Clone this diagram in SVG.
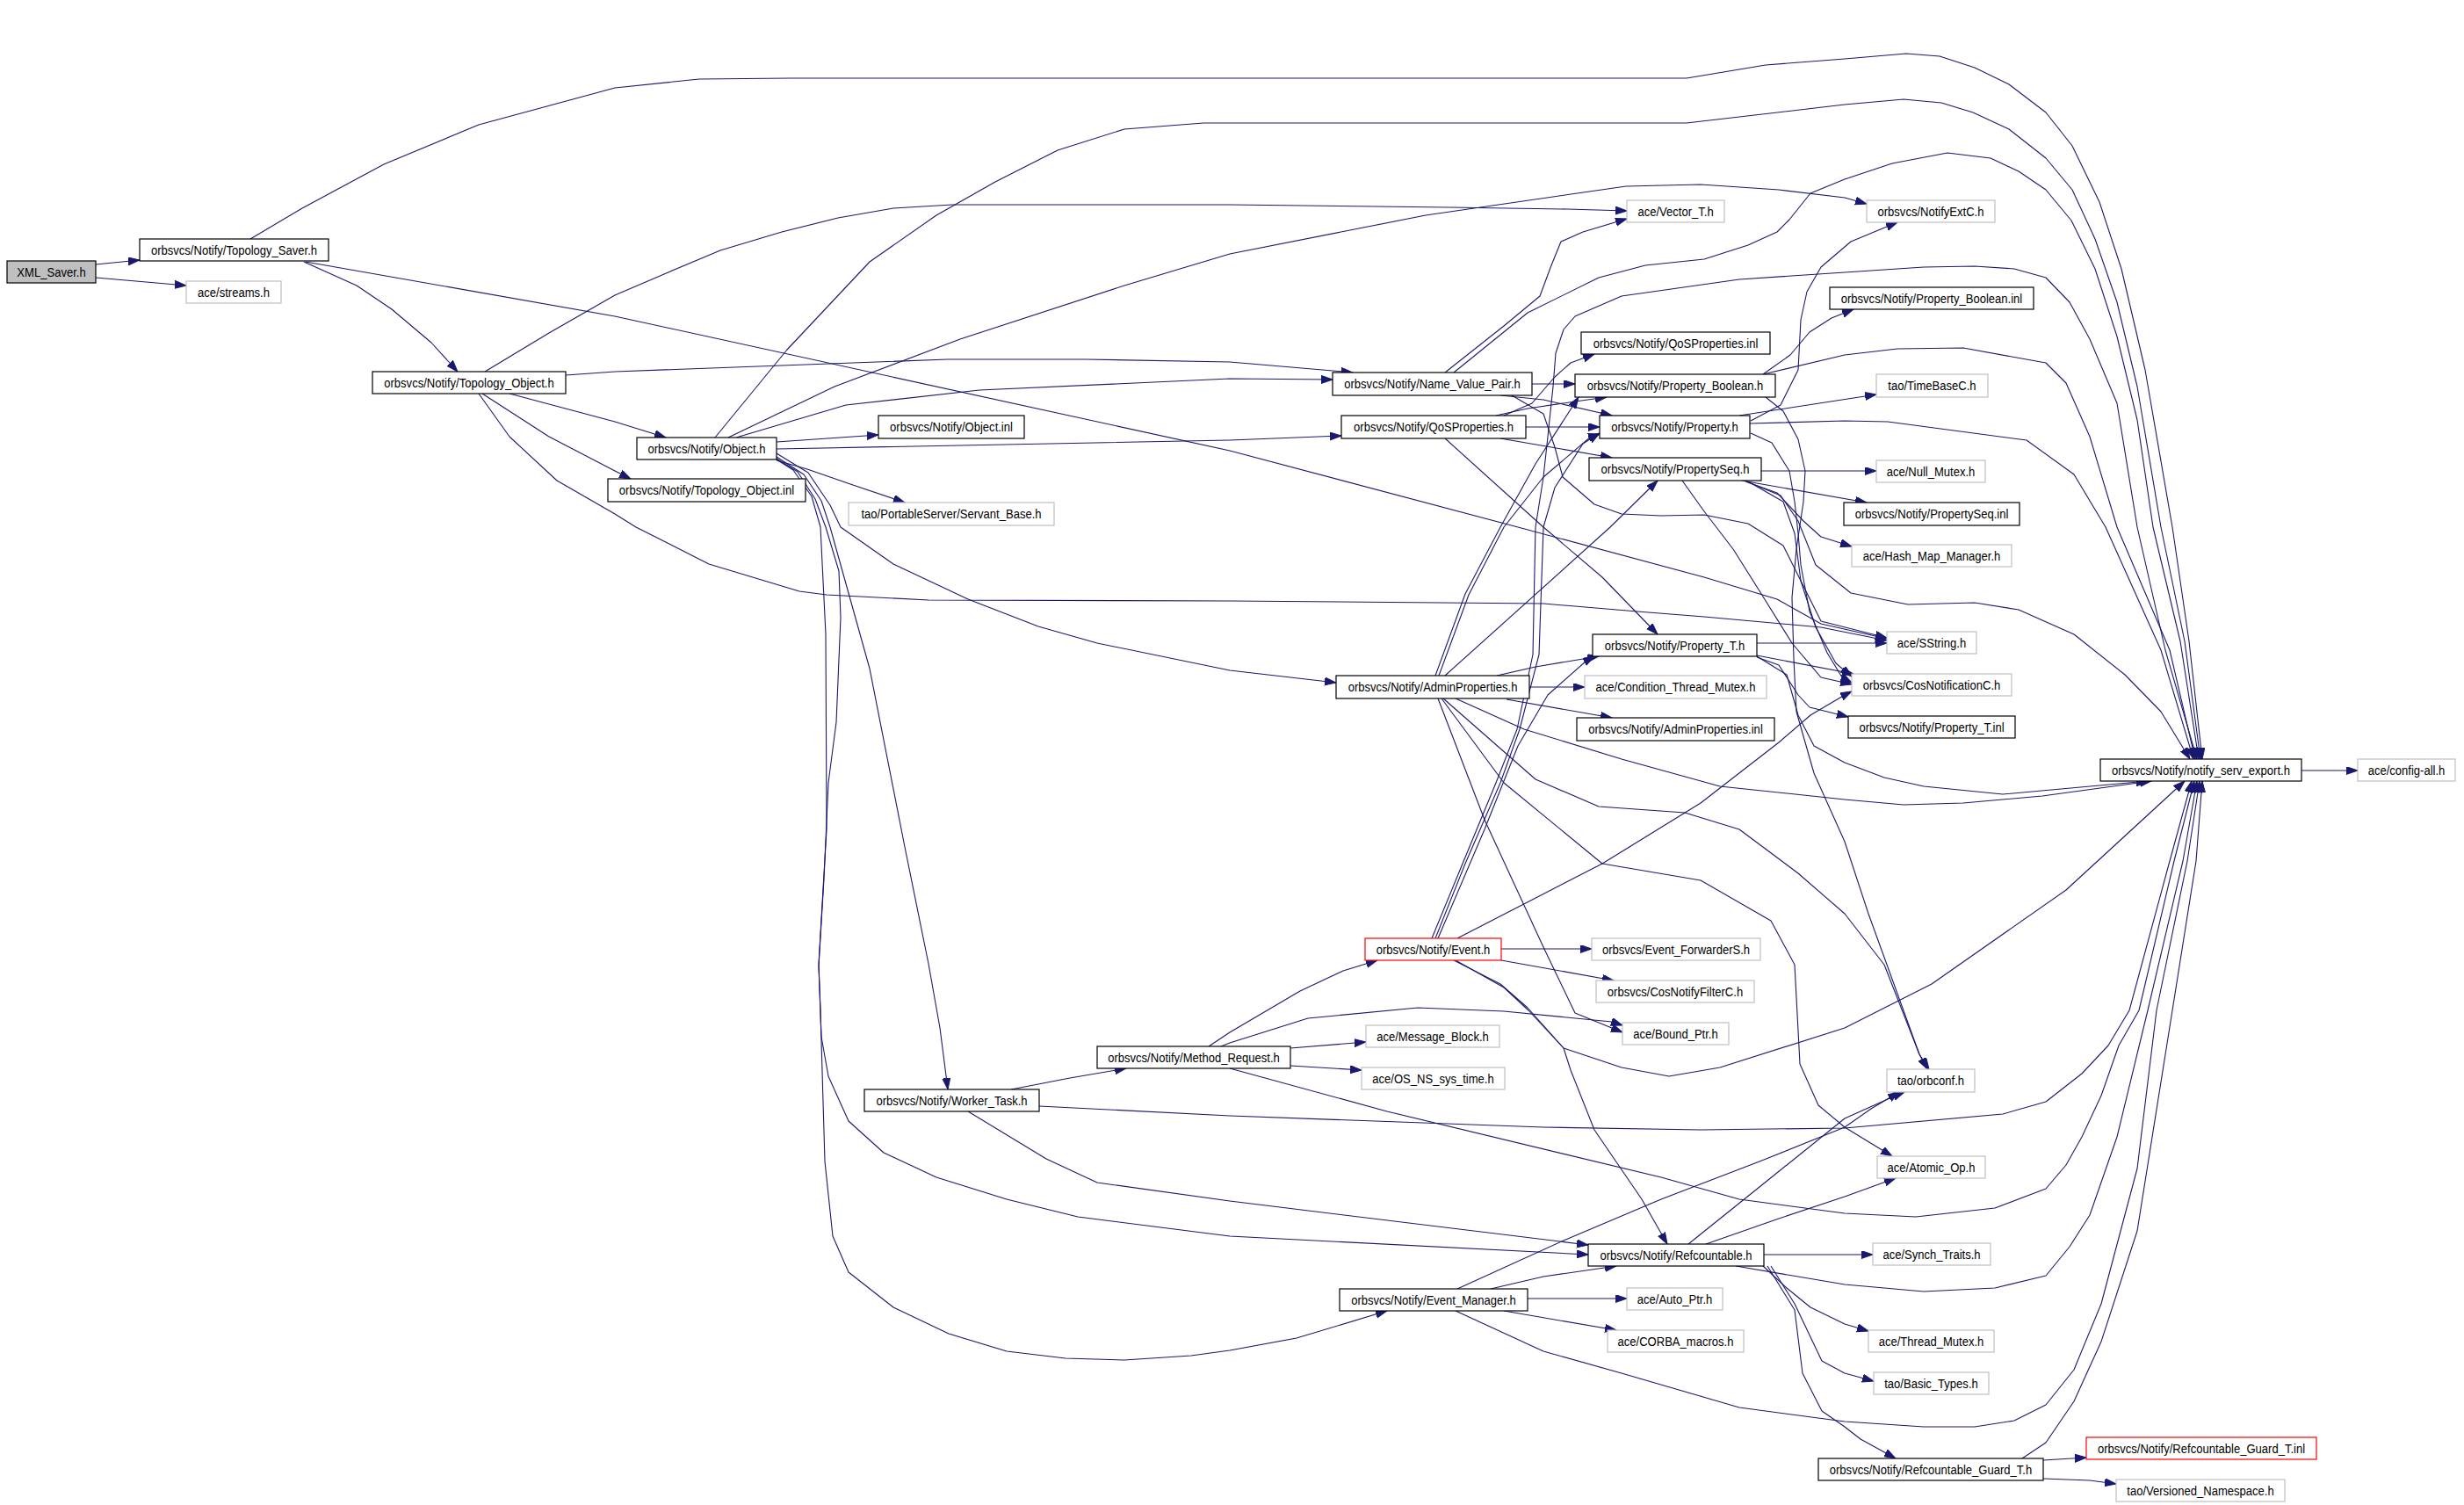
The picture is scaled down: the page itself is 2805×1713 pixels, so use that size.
<svg xmlns="http://www.w3.org/2000/svg" width="2805" height="1713" viewBox="0 0 2805 1713">
<defs>
<marker id="ah" markerUnits="userSpaceOnUse" markerWidth="14" markerHeight="10" refX="13" refY="4.5" orient="auto">
<path d="M0,0 L13,4.5 L0,9 z" fill="#191970" stroke="#191970" stroke-width="1"/>
</marker>
<style>
.e{fill:none;stroke:#191970;stroke-width:1.1;stroke-linejoin:round;marker-end:url(#ah)}
.nb rect{fill:#ffffff;stroke:#000000;stroke-width:1.2}
.ng rect{fill:#ffffff;stroke:#bfbfbf;stroke-width:1.2}
.nr rect{fill:#ffffff;stroke:#ff0000;stroke-width:1.2}
.nf rect{fill:#bfbfbf;stroke:#000000;stroke-width:1.2}
text{font-family:"Liberation Sans",Arial,Helvetica,sans-serif;font-size:14.5px;text-anchor:middle;fill:#000000}
</style>
</defs>
<rect x="0" y="0" width="2805" height="1713" fill="#ffffff"/>
<g id="connectors">
<path class="e" d="M109,301 L159,296"/>
<path class="e" d="M109,316 L212,325"/>
<path class="e" d="M285,272 L344,237 L437,187 L545,142 L700,100 L796,90 L900,89 L1920,89 L2010,74 L2100,67 L2170,61 L2208,64 L2248,77 L2287,96 L2329,128 L2359,166 L2390,230 L2415,306 L2442,421 L2473,600 L2492,730 L2507,864"/>
<path class="e" d="M346,298 L406,325 L446,352 L491,390 L521,423"/>
<path class="e" d="M348,298 L700,360 L1400,513 L1728,600 L1940,657 L2023,682 L2073,710 L2148,727"/>
<path class="e" d="M552,423 L625,379 L700,336 L756,312 L820,285 L890,264 L954,248 L1017,237 L1084,233 L1400,233 L1650,236 L1784,238 L1852,240"/>
<path class="e" d="M644,427 L700,423 L1079,409 L1236,409 L1400,412 L1540,424"/>
<path class="e" d="M580,448 L700,480 L758,498"/>
<path class="e" d="M549,448 L625,497 L700,536 L718,545"/>
<path class="e" d="M545,448 L580,497 L634,547 L700,585 L724,600 L807,642 L910,673 L941,677 L1057,683 L1400,684 L1757,687 L1864,696 L1940,702 L2073,714 L2148,729"/>
<path class="e" d="M814,498 L896,398 L990,298 L1066,245 L1133,207 L1204,171 L1280,147 L1370,140 L1920,140 L2100,119 L2167,113 L2210,117 L2246,128 L2287,147 L2329,180 L2359,216 L2385,272 L2410,344 L2433,440 L2460,600 L2487,730 L2505,864"/>
<path class="e" d="M829,498 L950,440 L1093,386 L1280,325 L1400,289 L1623,245 L1851,212 L1936,210 L2025,216 L2100,225 L2125,232"/>
<path class="e" d="M838,498 L963,461 L1115,444 L1400,431 L1517,432"/>
<path class="e" d="M884,503 L1000,495"/>
<path class="e" d="M884,511 L1400,501 L1527,496"/>
<path class="e" d="M884,524 L919,534 L968,551 L1030,572"/>
<path class="e" d="M884,516 L920,538 L945,575 L957,600 L1017,642 L1102,682 L1182,713 L1249,732 L1400,763 L1521,777"/>
<path class="e" d="M884,520 L915,540 L935,570 L945,600 L990,761 L1030,964 L1057,1097 L1070,1170 L1079,1240"/>
<path class="e" d="M884,522 L908,537 L928,568 L940,600 L955,650 L957,703 L952,822 L943,891 L938,1000 L932,1100 L935,1180 L943,1225 L966,1276 L1006,1312 L1066,1340 L1146,1365 L1227,1385 L1400,1407 L1808,1428"/>
<path class="e" d="M884,523 L903,535 L924,565 L934,600 L940,722 L941,944 L932,1097 L934,1150 L937,1254 L939,1322 L948,1407 L966,1448 L1017,1488 L1080,1518 L1146,1538 L1213,1546 L1280,1548 L1356,1543 L1400,1537 L1476,1523 L1579,1492"/>
<path class="e" d="M1655,424 L1739,356 L1820,316 L1873,302 L1940,295 L1990,279 L2023,264 L2037,250 L2061,220 L2100,204 L2154,186 L2217,174 L2266,180 L2298,195 L2329,216 L2358,251 L2385,306 L2410,383 L2433,478 L2451,600 L2482,730 L2503,864"/>
<path class="e" d="M1645,424 L1712,371 L1753,337 L1766,302 L1777,275 L1802,264 L1852,249"/>
<path class="e" d="M1744,437 L1793,437"/>
<path class="e" d="M1708,450 L1757,455 L1835,473"/>
<path class="e" d="M1721,450 L1757,471 L1770,509 L1779,543 L1815,574 L1846,585 L1891,587 L1940,586 L1990,596 L2030,621 L2050,661 L2067,714 L2090,755 L2108,770"/>
<path class="e" d="M1712,473 L1744,459 L1770,429 L1788,413 L1815,403"/>
<path class="e" d="M1703,473 L1739,465 L1793,457 L1829,452"/>
<path class="e" d="M1737,486 L1821,486"/>
<path class="e" d="M1708,499 L1766,509 L1835,521"/>
<path class="e" d="M1645,499 L1757,600 L1824,657 L1887,722"/>
<path class="e" d="M2007,426 L2038,404 L2060,378 L2085,362 L2110,352"/>
<path class="e" d="M2007,426 L2100,404 L2160,397 L2235,396 L2329,413 L2352,436 L2379,497 L2410,600 L2470,740 L2499,864"/>
<path class="e" d="M2010,452 L2030,468 L2047,500 L2055,536 L2053,571 L2045,625 L2040,680 L2042,750 L2045,810 L2065,880 L2100,958 L2127,1040 L2185,1200 L2194,1217"/>
<path class="e" d="M1992,482 L2100,479 L2149,480 L2307,501 L2361,540 L2397,600 L2460,740 L2497,864"/>
<path class="e" d="M1980,473 L2136,449"/>
<path class="e" d="M1993,479 L2027,461 L2047,421 L2050,364 L2057,332 L2073,304 L2107,275 L2160,253"/>
<path class="e" d="M1993,493 L2017,504 L2037,536 L2043,571 L2047,607 L2050,643 L2060,696 L2080,743 L2097,771 L2108,777"/>
<path class="e" d="M2005,536 L2136,536"/>
<path class="e" d="M1983,547 L2125,572"/>
<path class="e" d="M1987,548 L2023,561 L2053,593 L2073,611 L2108,622"/>
<path class="e" d="M1988,548 L2027,564 L2047,593 L2067,643 L2107,675 L2172,688 L2248,686 L2298,694 L2361,722 L2419,768 L2460,810 L2493,864"/>
<path class="e" d="M1990,548 L2030,571 L2043,607 L2050,661 L2073,707 L2148,726"/>
<path class="e" d="M1915,547 L1940,582 L1973,625 L2007,679 L2040,732 L2073,771 L2108,779"/>
<path class="e" d="M2000,732 L2148,732"/>
<path class="e" d="M2000,746 L2110,767"/>
<path class="e" d="M2000,748 L2025,757 L2047,791 L2060,805 L2104,816"/>
<path class="e" d="M2000,747 L2034,768 L2047,814 L2065,849 L2100,868 L2145,885 L2190,895 L2280,904 L2445,889"/>
<path class="e" d="M1741,782 L1804,782"/>
<path class="e" d="M1715,796 L1835,817"/>
<path class="e" d="M1704,769 L1748,759 L1820,747"/>
<path class="e" d="M1645,769 L1833,600 L1887,547"/>
<path class="e" d="M1634,769 L1668,676 L1708,600 L1748,528 L1797,452"/>
<path class="e" d="M1638,769 L1672,677 L1712,600 L1757,543 L1811,497 L1821,494"/>
<path class="e" d="M1637,795 L1690,933 L1757,1078 L1793,1153 L1847,1175"/>
<path class="e" d="M1643,795 L1748,887 L1820,918 L1918,925 L1980,944 L2047,994 L2100,1040 L2145,1098 L2185,1200 L2196,1217"/>
<path class="e" d="M1641,795 L1712,891 L1824,983 L1936,1002 L2016,1048 L2043,1098 L2049,1211 L2070,1258 L2100,1283 L2118,1294 L2154,1316"/>
<path class="e" d="M1657,795 L1735,830 L1846,864 L1958,895 L2100,910 L2167,916 L2235,914 L2325,906 L2449,889"/>
<path class="e" d="M1709,1080 L1812,1080"/>
<path class="e" d="M1709,1093 L1837,1116"/>
<path class="e" d="M1637,1068 L1690,944 L1728,849 L1762,791 L1806,752 L1815,747"/>
<path class="e" d="M1659,1068 L1824,983 L1936,914 L2025,845 L2061,814 L2100,791 L2108,787"/>
<path class="e" d="M1634,1068 L1668,983 L1708,891 L1730,830 L1752,745 L1757,600 L1770,555 L1802,505 L1821,493"/>
<path class="e" d="M1630,1068 L1665,983 L1703,891 L1727,830 L1745,745 L1748,600 L1757,543 L1762,497 L1768,440 L1771,402 L1780,375 L1793,360 L1846,337 L1980,318 L2100,310 L2190,304 L2248,303 L2293,306 L2329,316 L2356,344 L2379,386 L2410,459 L2433,600 L2465,740 L2501,864"/>
<path class="e" d="M1655,1093 L1708,1120 L1739,1147 L1780,1193 L1788,1218 L1815,1286 L1869,1365 L1898,1416"/>
<path class="e" d="M1657,1093 L1712,1124 L1740,1150 L1780,1193 L1846,1215 L1900,1225 L1958,1215 L2100,1170 L2199,1120 L2352,1013 L2487,889"/>
<path class="e" d="M1376,1191 L1400,1175 L1480,1128 L1529,1105 L1568,1093"/>
<path class="e" d="M1390,1191 L1400,1187 L1489,1159 L1614,1147 L1712,1151 L1835,1163 L1847,1167"/>
<path class="e" d="M1469,1193 L1555,1186"/>
<path class="e" d="M1469,1213 L1550,1218"/>
<path class="e" d="M1400,1216 L1579,1265 L1891,1340 L1980,1365 L2100,1381 L2181,1385 L2271,1375 L2329,1353 L2352,1326 L2370,1294 L2392,1247 L2412,1190 L2435,1150 L2475,980 L2498,889"/>
<path class="e" d="M1151,1240 L1218,1227 L1282,1216"/>
<path class="e" d="M1183,1259 L1400,1270 L1757,1283 L1936,1286 L2100,1284 L2280,1268 L2329,1254 L2370,1222 L2400,1190 L2424,1150 L2470,980 L2495,889"/>
<path class="e" d="M1102,1265 L1191,1319 L1249,1346 L1400,1367 L1808,1417"/>
<path class="e" d="M1697,1467 L1757,1453 L1840,1441"/>
<path class="e" d="M1739,1478 L1852,1478"/>
<path class="e" d="M1712,1492 L1840,1514"/>
<path class="e" d="M1659,1467 L1780,1412 L1891,1365 L2003,1322 L2100,1283 L2130,1262 L2162,1243"/>
<path class="e" d="M1657,1492 L1757,1538 L1846,1563 L1980,1602 L2100,1618 L2190,1624 L2248,1624 L2293,1617 L2329,1599 L2361,1559 L2392,1484 L2433,1330 L2455,1150 L2490,980 L2504,889"/>
<path class="e" d="M1922,1416 L2003,1351 L2100,1273 L2158,1247 L2168,1243"/>
<path class="e" d="M1942,1416 L2025,1387 L2100,1362 L2158,1341"/>
<path class="e" d="M2008,1428 L2132,1428"/>
<path class="e" d="M1976,1441 L2100,1462 L2190,1470 L2271,1466 L2329,1452 L2356,1419 L2379,1383 L2410,1294 L2445,1150 L2485,980 L2501,889"/>
<path class="e" d="M2007,1441 L2034,1466 L2061,1488 L2100,1507 L2127,1515"/>
<path class="e" d="M2016,1441 L2043,1484 L2074,1549 L2100,1563 L2133,1572"/>
<path class="e" d="M2012,1441 L2043,1491 L2052,1563 L2074,1606 L2100,1624 L2118,1638 L2158,1660"/>
<path class="e" d="M2326,1662 L2375,1659"/>
<path class="e" d="M2326,1683 L2379,1685 L2409,1689"/>
<path class="e" d="M2302,1660 L2329,1642 L2361,1595 L2392,1527 L2433,1401 L2473,1150 L2500,980 L2507,889"/>
<path class="e" d="M2620,877 L2684,877"/>
</g>
<g id="n_xml" class="nf"><rect x="8" y="297" width="101" height="25"/><text transform="matrix(0.9,0,0,1,58.5,314.7)">XML_Saver.h</text></g>
<g id="n_tsaver" class="nb"><rect x="159" y="272" width="215" height="25"/><text transform="matrix(0.9,0,0,1,266.5,289.7)">orbsvcs/Notify/Topology_Saver.h</text></g>
<g id="n_streams" class="ng"><rect x="212" y="320" width="108" height="25"/><text transform="matrix(0.9,0,0,1,266,337.7)">ace/streams.h</text></g>
<g id="n_tobj" class="nb"><rect x="424" y="423" width="220" height="25"/><text transform="matrix(0.9,0,0,1,534,440.7)">orbsvcs/Notify/Topology_Object.h</text></g>
<g id="n_obj" class="nb"><rect x="725" y="498" width="159" height="25"/><text transform="matrix(0.9,0,0,1,804.5,515.7)">orbsvcs/Notify/Object.h</text></g>
<g id="n_objinl" class="nb"><rect x="1000" y="473" width="166" height="26"/><text transform="matrix(0.9,0,0,1,1083,491.2)">orbsvcs/Notify/Object.inl</text></g>
<g id="n_tobjinl" class="nb"><rect x="692" y="545" width="225" height="26"/><text transform="matrix(0.9,0,0,1,804.5,563.2)">orbsvcs/Notify/Topology_Object.inl</text></g>
<g id="n_servant" class="ng"><rect x="966" y="572" width="234" height="26"/><text transform="matrix(0.9,0,0,1,1083,590.2)">tao/PortableServer/Servant_Base.h</text></g>
<g id="n_vector" class="ng"><rect x="1852" y="228" width="111" height="25"/><text transform="matrix(0.9,0,0,1,1907.5,245.7)">ace/Vector_T.h</text></g>
<g id="n_nvp" class="nb"><rect x="1517" y="424" width="227" height="26"/><text transform="matrix(0.9,0,0,1,1630.5,442.2)">orbsvcs/Notify/Name_Value_Pair.h</text></g>
<g id="n_qosinl" class="nb"><rect x="1800" y="378" width="215" height="25"/><text transform="matrix(0.9,0,0,1,1907.5,395.7)">orbsvcs/Notify/QoSProperties.inl</text></g>
<g id="n_pbool" class="nb"><rect x="1793" y="426" width="228" height="26"/><text transform="matrix(0.9,0,0,1,1907,444.2)">orbsvcs/Notify/Property_Boolean.h</text></g>
<g id="n_qos" class="nb"><rect x="1527" y="473" width="210" height="26"/><text transform="matrix(0.9,0,0,1,1632,491.2)">orbsvcs/Notify/QoSProperties.h</text></g>
<g id="n_prop" class="nb"><rect x="1821" y="473" width="171" height="26"/><text transform="matrix(0.9,0,0,1,1906.5,491.2)">orbsvcs/Notify/Property.h</text></g>
<g id="n_pseq" class="nb"><rect x="1809" y="521" width="196" height="26"/><text transform="matrix(0.9,0,0,1,1907,539.2)">orbsvcs/Notify/PropertySeq.h</text></g>
<g id="n_extc" class="ng"><rect x="2125" y="228" width="146" height="25"/><text transform="matrix(0.9,0,0,1,2198,245.7)">orbsvcs/NotifyExtC.h</text></g>
<g id="n_pboolinl" class="nb"><rect x="2083" y="327" width="232" height="25"/><text transform="matrix(0.9,0,0,1,2199,344.7)">orbsvcs/Notify/Property_Boolean.inl</text></g>
<g id="n_timebase" class="ng"><rect x="2136" y="426" width="127" height="26"/><text transform="matrix(0.9,0,0,1,2199.5,444.2)">tao/TimeBaseC.h</text></g>
<g id="n_nullmutex" class="ng"><rect x="2136" y="524" width="124" height="25"/><text transform="matrix(0.9,0,0,1,2198,541.7)">ace/Null_Mutex.h</text></g>
<g id="n_pseqinl" class="nb"><rect x="2099" y="572" width="200" height="26"/><text transform="matrix(0.9,0,0,1,2199,590.2)">orbsvcs/Notify/PropertySeq.inl</text></g>
<g id="n_hashmap" class="ng"><rect x="2108" y="620" width="182" height="25"/><text transform="matrix(0.9,0,0,1,2199,637.7)">ace/Hash_Map_Manager.h</text></g>
<g id="n_sstring" class="ng"><rect x="2148" y="719" width="102" height="25"/><text transform="matrix(0.9,0,0,1,2199,736.7)">ace/SString.h</text></g>
<g id="n_cosnot" class="ng"><rect x="2108" y="767" width="182" height="25"/><text transform="matrix(0.9,0,0,1,2199,784.7)">orbsvcs/CosNotificationC.h</text></g>
<g id="n_ptinl" class="nb"><rect x="2104" y="815" width="190" height="25"/><text transform="matrix(0.9,0,0,1,2199,832.7)">orbsvcs/Notify/Property_T.inl</text></g>
<g id="n_export" class="nb"><rect x="2391" y="864" width="229" height="25"/><text transform="matrix(0.9,0,0,1,2505.5,881.7)">orbsvcs/Notify/notify_serv_export.h</text></g>
<g id="n_config" class="ng"><rect x="2684" y="864" width="111" height="25"/><text transform="matrix(0.9,0,0,1,2739.5,881.7)">ace/config-all.h</text></g>
<g id="n_admin" class="nb"><rect x="1521" y="769" width="220" height="26"/><text transform="matrix(0.9,0,0,1,1631,787.2)">orbsvcs/Notify/AdminProperties.h</text></g>
<g id="n_pt" class="nb"><rect x="1813" y="722" width="187" height="25"/><text transform="matrix(0.9,0,0,1,1906.5,739.7)">orbsvcs/Notify/Property_T.h</text></g>
<g id="n_ctm" class="ng"><rect x="1804" y="769" width="207" height="26"/><text transform="matrix(0.9,0,0,1,1907.5,787.2)">ace/Condition_Thread_Mutex.h</text></g>
<g id="n_admininl" class="nb"><rect x="1795" y="817" width="225" height="26"/><text transform="matrix(0.9,0,0,1,1907.5,835.2)">orbsvcs/Notify/AdminProperties.inl</text></g>
<g id="n_event" class="nr"><rect x="1554" y="1068" width="155" height="25"/><text transform="matrix(0.9,0,0,1,1631.5,1085.7)">orbsvcs/Notify/Event.h</text></g>
<g id="n_fwd" class="ng"><rect x="1812" y="1068" width="192" height="25"/><text transform="matrix(0.9,0,0,1,1908,1085.7)">orbsvcs/Event_ForwarderS.h</text></g>
<g id="n_filter" class="ng"><rect x="1817" y="1116" width="180" height="25"/><text transform="matrix(0.9,0,0,1,1907,1133.7)">orbsvcs/CosNotifyFilterC.h</text></g>
<g id="n_bound" class="ng"><rect x="1847" y="1164" width="121" height="25"/><text transform="matrix(0.9,0,0,1,1907.5,1181.7)">ace/Bound_Ptr.h</text></g>
<g id="n_msgblk" class="ng"><rect x="1555" y="1167" width="152" height="25"/><text transform="matrix(0.9,0,0,1,1631,1184.7)">ace/Message_Block.h</text></g>
<g id="n_mreq" class="nb"><rect x="1249" y="1191" width="220" height="25"/><text transform="matrix(0.9,0,0,1,1359,1208.7)">orbsvcs/Notify/Method_Request.h</text></g>
<g id="n_ostime" class="ng"><rect x="1550" y="1215" width="163" height="25"/><text transform="matrix(0.9,0,0,1,1631.5,1232.7)">ace/OS_NS_sys_time.h</text></g>
<g id="n_worker" class="nb"><rect x="984" y="1240" width="199" height="25"/><text transform="matrix(0.9,0,0,1,1083.5,1257.7)">orbsvcs/Notify/Worker_Task.h</text></g>
<g id="n_orbconf" class="ng"><rect x="2148" y="1217" width="100" height="26"/><text transform="matrix(0.9,0,0,1,2198,1235.2)">tao/orbconf.h</text></g>
<g id="n_atomic" class="ng"><rect x="2137" y="1316" width="123" height="25"/><text transform="matrix(0.9,0,0,1,2198.5,1333.7)">ace/Atomic_Op.h</text></g>
<g id="n_ref" class="nb"><rect x="1808" y="1416" width="200" height="25"/><text transform="matrix(0.9,0,0,1,1908,1433.7)">orbsvcs/Notify/Refcountable.h</text></g>
<g id="n_synch" class="ng"><rect x="2132" y="1415" width="134" height="25"/><text transform="matrix(0.9,0,0,1,2199,1432.7)">ace/Synch_Traits.h</text></g>
<g id="n_evmgr" class="nb"><rect x="1525" y="1467" width="214" height="25"/><text transform="matrix(0.9,0,0,1,1632,1484.7)">orbsvcs/Notify/Event_Manager.h</text></g>
<g id="n_autoptr" class="ng"><rect x="1852" y="1466" width="109" height="25"/><text transform="matrix(0.9,0,0,1,1906.5,1483.7)">ace/Auto_Ptr.h</text></g>
<g id="n_corba" class="ng"><rect x="1830" y="1514" width="155" height="25"/><text transform="matrix(0.9,0,0,1,1907.5,1531.7)">ace/CORBA_macros.h</text></g>
<g id="n_tmutex" class="ng"><rect x="2127" y="1514" width="143" height="25"/><text transform="matrix(0.9,0,0,1,2198.5,1531.7)">ace/Thread_Mutex.h</text></g>
<g id="n_basic" class="ng"><rect x="2133" y="1562" width="131" height="25"/><text transform="matrix(0.9,0,0,1,2198.5,1579.7)">tao/Basic_Types.h</text></g>
<g id="n_guard" class="nb"><rect x="2070" y="1660" width="256" height="25"/><text transform="matrix(0.9,0,0,1,2198,1677.7)">orbsvcs/Notify/Refcountable_Guard_T.h</text></g>
<g id="n_guardinl" class="nr"><rect x="2375" y="1636" width="262" height="25"/><text transform="matrix(0.9,0,0,1,2506,1653.7)">orbsvcs/Notify/Refcountable_Guard_T.inl</text></g>
<g id="n_version" class="ng"><rect x="2409" y="1684" width="192" height="25"/><text transform="matrix(0.9,0,0,1,2505,1701.7)">tao/Versioned_Namespace.h</text></g>
</svg>
